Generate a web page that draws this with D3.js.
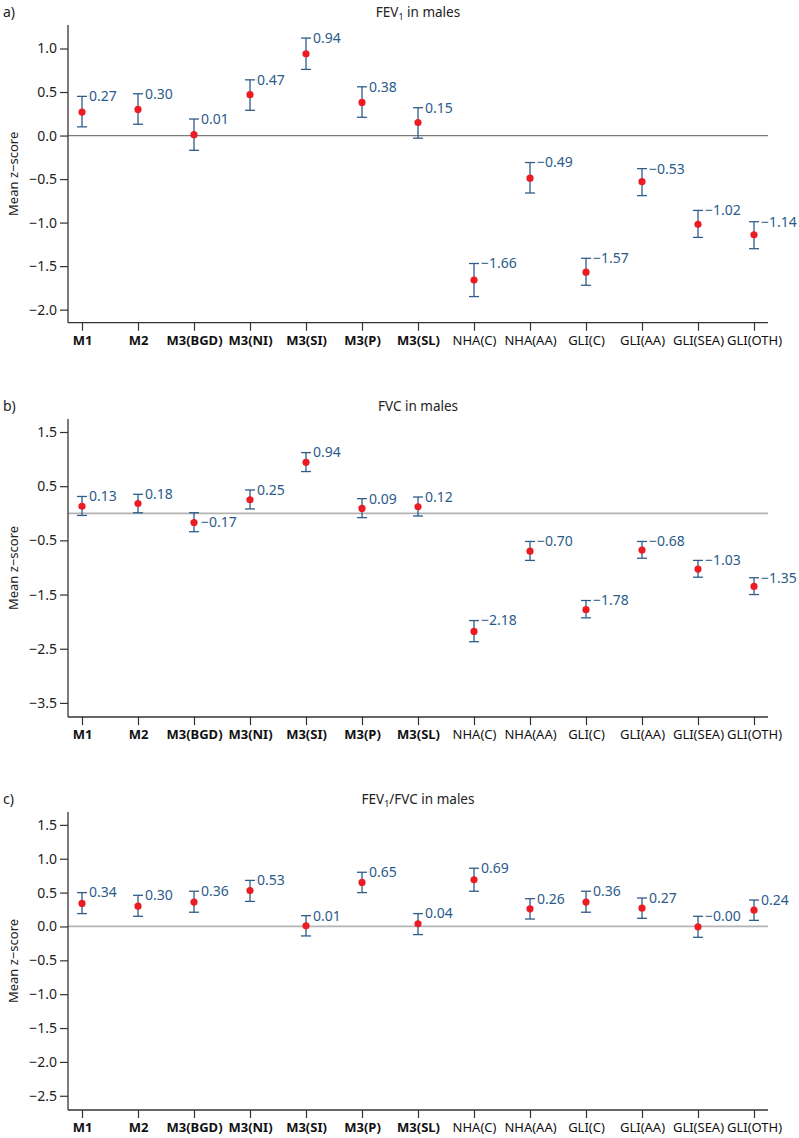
<!DOCTYPE html>
<html><head><meta charset="utf-8">
<script src="https://cdn.jsdelivr.net/npm/d3@7"></script>
<style>
body{margin:0;background:#fff;}
svg{display:block;font-family:"Noto Sans",sans-serif;}
</style></head>
<body><svg id="chart" width="799" height="1138"></svg>
<script>
const categories = ["M1","M2","M3(BGD)","M3(NI)","M3(SI)","M3(P)","M3(SL)","NHA(C)","NHA(AA)","GLI(C)","GLI(AA)","GLI(SEA)","GLI(OTH)"];
const boldCategories = ["M1","M2","M3(BGD)","M3(NI)","M3(SI)","M3(P)","M3(SL)"];

const fev1Mean  = [0.27,0.30,0.01,0.47,0.94,0.38,0.15,-1.66,-0.49,-1.57,-0.53,-1.02,-1.14];
const fev1Lower = [0.10,0.13,-0.17,0.29,0.76,0.21,-0.03,-1.85,-0.66,-1.72,-0.69,-1.17,-1.30];
const fev1Upper = [0.45,0.48,0.19,0.64,1.12,0.56,0.32,-1.47,-0.31,-1.41,-0.38,-0.86,-0.99];
const fev1Labels = ["0.27","0.30","0.01","0.47","0.94","0.38","0.15","−1.66","−0.49","−1.57","−0.53","−1.02","−1.14"];
const fev1Ticks = [1.0,0.5,0.0,-0.5,-1.0,-1.5,-2.0];

const fvcMean  = [0.13,0.18,-0.17,0.25,0.94,0.09,0.12,-2.18,-0.70,-1.78,-0.68,-1.03,-1.35];
const fvcLower = [-0.04,0.01,-0.34,0.08,0.77,-0.08,-0.05,-2.37,-0.87,-1.93,-0.83,-1.18,-1.50];
const fvcUpper = [0.31,0.35,0.01,0.43,1.12,0.27,0.30,-1.98,-0.52,-1.61,-0.52,-0.87,-1.19];
const fvcLabels = ["0.13","0.18","−0.17","0.25","0.94","0.09","0.12","−2.18","−0.70","−1.78","−0.68","−1.03","−1.35"];
const fvcTicks = [1.5,0.5,-0.5,-1.5,-2.5,-3.5];

const ratioMean  = [0.34,0.30,0.36,0.53,0.01,0.65,0.04,0.69,0.26,0.36,0.27,-0.004,0.24];
const ratioLower = [0.19,0.15,0.21,0.37,-0.14,0.50,-0.12,0.52,0.11,0.21,0.12,-0.16,0.09];
const ratioUpper = [0.50,0.46,0.52,0.68,0.16,0.80,0.19,0.86,0.41,0.52,0.42,0.15,0.39];
const ratioLabels = ["0.34","0.30","0.36","0.53","0.01","0.65","0.04","0.69","0.26","0.36","0.27","−0.00","0.24"];
const ratioTicks = [1.5,1.0,0.5,0.0,-0.5,-1.0,-1.5,-2.0,-2.5];

const panels = [
  {letter:"a)", title:["FEV","1"," in males"], mean:fev1Mean, lower:fev1Lower, upper:fev1Upper, labels:fev1Labels, ticks:fev1Ticks, domain:[-2.15,1.27], top:25, bottom:322.7, zeroColor:"#7a7a7a", zeroWidth:1.2},
  {letter:"b)", title:["FVC in males"], mean:fvcMean, lower:fvcLower, upper:fvcUpper, labels:fvcLabels, ticks:fvcTicks, domain:[-3.76,1.74], top:419, bottom:717, zeroColor:"#b4b4b4", zeroWidth:1.8},
  {letter:"c)", title:["FEV","1","/FVC in males"], mean:ratioMean, lower:ratioLower, upper:ratioUpper, labels:ratioLabels, ticks:ratioTicks, domain:[-2.71,1.69], top:812, bottom:1110, zeroColor:"#b4b4b4", zeroWidth:1.8}
];

const svg = d3.select("#chart");
const left = 68, right = 768;
const x = d3.scalePoint().domain(categories).range([left, right]).padding(0.25);
const barColor = "#2f5d88", labelColor = "#2a5b8a", dotColor = "#ec1c24", axisColor = "#333";

panels.forEach(p => {
  const g = svg.append("g");
  const y = d3.scaleLinear().domain(p.domain).range([p.bottom, p.top]);
  const titleY = p.top - 13;

  g.append("text").attr("x", 3).attr("y", titleY).attr("dy","0.35em")
    .attr("font-size", 14).attr("fill", "#222").text(p.letter);

  const t = g.append("text").attr("x", (left+right)/2).attr("y", titleY).attr("dy","0.35em")
    .attr("text-anchor","middle").attr("font-size", 13.5).attr("fill","#222");
  if (p.title.length === 1) t.text(p.title[0]);
  else {
    t.append("tspan").text(p.title[0]);
    t.append("tspan").attr("font-size", 9).attr("dy", 3).text(p.title[1]);
    t.append("tspan").attr("dy", -3).text(p.title[2]);
  }

  g.append("line").attr("x1", left).attr("x2", right)
    .attr("y1", y(0)).attr("y2", y(0))
    .attr("stroke", p.zeroColor).attr("stroke-width", p.zeroWidth);

  const ya = g.append("g").attr("transform", `translate(${left},0)`)
    .call(d3.axisLeft(y).tickValues(p.ticks).tickFormat(d3.format(".1f")).tickSize(8).tickPadding(3).tickSizeOuter(0));
  ya.select(".domain").attr("stroke", axisColor).attr("stroke-width", 1.3).attr("d", `M0,${p.top}V${p.bottom}`);
  ya.selectAll(".tick line").attr("stroke", axisColor).attr("stroke-width", 1.2);
  ya.selectAll(".tick text").attr("font-size", 14).attr("fill", "#222").attr("font-family", "Noto Sans, sans-serif");

  const xa = g.append("g").attr("transform", `translate(0,${p.bottom})`)
    .call(d3.axisBottom(x).tickSize(8).tickPadding(5).tickSizeOuter(0));
  xa.select(".domain").attr("stroke", axisColor).attr("stroke-width", 1.3).attr("d", `M${left},0H${right}`);
  xa.selectAll(".tick line").attr("stroke", axisColor).attr("stroke-width", 1.2);
  xa.selectAll(".tick text").attr("font-size", 13).attr("fill", "#111")
    .attr("font-family", "Noto Sans, sans-serif")
    .attr("font-weight", d => boldCategories.includes(d) ? "bold" : "normal");

  g.append("text").attr("transform", `translate(13,${(p.top+p.bottom)/2}) rotate(-90)`)
    .attr("text-anchor","middle").attr("dy","0.35em").attr("font-size", 13).attr("fill","#222")
    .text("Mean z−score");

  const data = categories.map((c,i) => ({c, m:p.mean[i], lo:p.lower[i], hi:p.upper[i], lab:p.labels[i]}));
  const eg = g.append("g");
  const cap = 5;
  data.forEach(d => {
    const cx = x(d.c);
    eg.append("line").attr("x1",cx).attr("x2",cx).attr("y1",y(d.lo)).attr("y2",y(d.hi))
      .attr("stroke",barColor).attr("stroke-width",1.3);
    eg.append("line").attr("x1",cx-cap).attr("x2",cx+cap).attr("y1",y(d.hi)).attr("y2",y(d.hi))
      .attr("stroke",barColor).attr("stroke-width",1.3);
    eg.append("line").attr("x1",cx-cap).attr("x2",cx+cap).attr("y1",y(d.lo)).attr("y2",y(d.lo))
      .attr("stroke",barColor).attr("stroke-width",1.3);
    eg.append("circle").attr("cx",cx).attr("cy",y(d.m)).attr("r",3.6).attr("fill",dotColor);
    const ly = Math.abs(d.hi) < 0.05 ? y(d.m) : y(d.hi);
    eg.append("text").attr("x", cx + cap + 2).attr("y", ly).attr("dy","0.35em")
      .attr("font-size", 14).attr("fill", labelColor).text(d.lab);
  });
});
</script></body></html>
